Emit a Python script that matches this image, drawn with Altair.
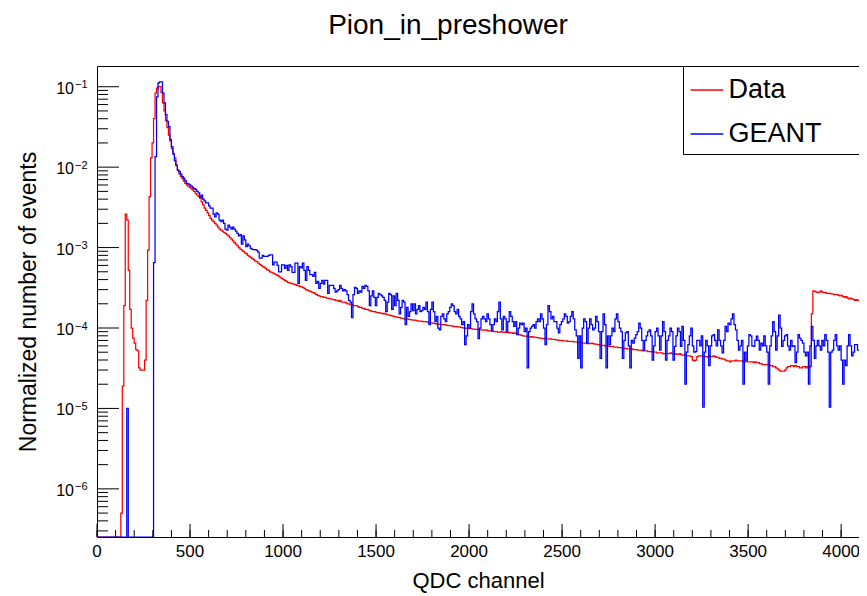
import altair as alt
import pandas as pd

FONT = "Liberation Sans"
BIN_WIDTH = 8
X_MAX = 4096
Y_MIN, Y_MAX = 2.52e-7, 0.181
FLOOR = 1e-9  # empty bins: drawn on the lower frame edge (scale clamps them)
W, H = 762, 471

# ---- "Data" histogram, 512 bins of 8 QDC channels (rows of 32 bins) ----
data_r0 = [0, 0, 0, 0, 0, 0, 0, 0, 0, 0, 0, 0, 0, 0, 0, 0,
           5e-7, 1.9e-5, 1.9e-4, 2.6e-3, 2.2e-3, 5.2e-4, 1.7e-4, 1.0e-4, 7.5e-5, 6.5e-5, 5.4e-5, 5.2e-5, 3.2e-5, 3.0e-5, 3.0e-5, 3.0e-5]
data_r1 = [4.0e-5, 2.2e-4, 9.3e-4, 4.3e-3, 1.3e-2, 2.0e-2, 4.0e-2, 8.3e-2, 9.6e-2, 0.100, 0.100, 0.085, 0.063, 0.050, 0.038, 0.031,
           0.025, 0.021, 0.017, 0.0148, 0.013, 0.0105, 0.0092, 0.0083, 0.0077, 0.0072, 0.0067, 0.0063, 0.0060, 0.0058, 0.0056, 0.0054]
data_r2 = [0.0052, 0.0050, 0.0047, 0.0045, 0.0043, 0.0041, 0.0037, 0.0034, 0.0031, 0.0029, 0.0027, 0.0025, 0.0023, 0.0022, 0.0021, 0.0020,
           0.0019, 0.0018, 0.0017, 0.00165, 0.0016, 0.00155, 0.0015, 0.00145, 0.0014, 0.00133, 0.00127, 0.00121, 0.00115, 0.0011, 0.00105, 0.0010]
data_r3 = [9.6e-4, 9.3e-4, 9.0e-4, 8.6e-4, 8.4e-4, 8.0e-4, 7.8e-4, 7.5e-4, 7.3e-4, 7.1e-4, 6.8e-4, 6.7e-4, 6.4e-4, 6.2e-4, 6.0e-4, 5.8e-4,
           5.7e-4, 5.5e-4, 5.3e-4, 5.2e-4, 5.0e-4, 4.9e-4, 4.8e-4, 4.7e-4, 4.6e-4, 4.5e-4, 4.4e-4, 4.2e-4, 4.1e-4, 4.0e-4, 3.9e-4, 3.8e-4]
data_r4 = [3.7e-4, 3.65e-4, 3.6e-4, 3.55e-4, 3.5e-4, 3.45e-4, 3.4e-4, 3.35e-4, 3.3e-4, 3.25e-4, 3.2e-4, 3.1e-4, 3.0e-4, 2.95e-4, 2.9e-4, 2.85e-4,
           2.8e-4, 2.75e-4, 2.7e-4, 2.6e-4, 2.55e-4, 2.5e-4, 2.45e-4, 2.45e-4, 2.4e-4, 2.4e-4, 2.35e-4, 2.35e-4, 2.3e-4, 2.3e-4, 2.25e-4, 2.25e-4]
data_r5 = [2.2e-4, 2.2e-4, 2.15e-4, 2.2e-4, 2.1e-4, 2.1e-4, 2.1e-4, 2.05e-4, 2.0e-4, 2.0e-4, 1.95e-4, 1.95e-4, 1.9e-4, 1.9e-4, 1.9e-4, 1.85e-4,
           1.8e-4, 1.8e-4, 1.75e-4, 1.75e-4, 1.7e-4, 1.7e-4, 1.68e-4, 1.65e-4, 1.62e-4, 1.6e-4, 1.6e-4, 1.58e-4, 1.55e-4, 1.55e-4, 1.53e-4, 1.52e-4]
data_r6 = [1.5e-4, 1.52e-4, 1.48e-4, 1.46e-4, 1.45e-4, 1.43e-4, 1.42e-4, 1.4e-4, 1.38e-4, 1.37e-4, 1.36e-4, 1.35e-4, 1.33e-4, 1.32e-4, 1.3e-4, 1.3e-4,
           1.3e-4, 1.28e-4, 1.27e-4, 1.26e-4, 1.25e-4, 1.25e-4, 1.24e-4, 1.23e-4, 1.22e-4, 1.22e-4, 1.21e-4, 1.2e-4, 1.2e-4, 1.19e-4, 1.18e-4, 1.17e-4]
data_r7 = [1.16e-4, 1.15e-4, 1.14e-4, 1.13e-4, 1.12e-4, 1.12e-4, 1.11e-4, 1.1e-4, 1.1e-4, 1.1e-4, 1.09e-4, 1.08e-4, 1.07e-4, 1.07e-4, 1.06e-4, 1.05e-4,
           1.04e-4, 1.04e-4, 1.03e-4, 1.03e-4, 1.02e-4, 1.01e-4, 1.0e-4, 1.0e-4, 9.9e-5, 9.9e-5, 9.8e-5, 9.8e-5, 9.7e-5, 9.7e-5, 9.6e-5, 9.6e-5]
data_r8 = [9.6e-5, 9.5e-5, 9.5e-5, 9.4e-5, 9.4e-5, 9.5e-5, 9.3e-5, 9.2e-5, 9.2e-5, 9.1e-5, 9.1e-5, 9.0e-5, 9.0e-5, 8.9e-5, 8.9e-5, 9.0e-5,
           8.9e-5, 8.8e-5, 8.9e-5, 8.8e-5, 8.7e-5, 8.8e-5, 8.7e-5, 8.6e-5, 8.7e-5, 8.6e-5, 8.4e-5, 8.3e-5, 8.2e-5, 8.1e-5, 8.0e-5, 7.9e-5]
data_r9 = [7.9e-5, 7.8e-5, 7.8e-5, 7.7e-5, 7.8e-5, 7.7e-5, 7.7e-5, 7.6e-5, 7.6e-5, 7.5e-5, 7.5e-5, 7.4e-5, 7.4e-5, 7.4e-5, 7.3e-5, 7.3e-5,
           7.3e-5, 7.2e-5, 7.2e-5, 7.2e-5, 7.1e-5, 7.1e-5, 7.0e-5, 7.0e-5, 7.0e-5, 6.9e-5, 6.9e-5, 6.9e-5, 6.8e-5, 6.8e-5, 6.8e-5, 6.8e-5]
data_r10 = [6.7e-5, 6.7e-5, 6.7e-5, 6.6e-5, 6.6e-5, 6.6e-5, 6.5e-5, 6.5e-5, 6.5e-5, 6.4e-5, 6.4e-5, 6.4e-5, 6.5e-5, 6.4e-5, 6.3e-5, 6.3e-5,
            6.2e-5, 6.2e-5, 6.1e-5, 6.1e-5, 6.1e-5, 6.0e-5, 6.0e-5, 6.0e-5, 5.9e-5, 5.9e-5, 5.9e-5, 5.8e-5, 5.8e-5, 5.8e-5, 5.7e-5, 5.7e-5]
data_r11 = [5.7e-5, 5.6e-5, 5.6e-5, 5.6e-5, 5.5e-5, 5.5e-5, 5.5e-5, 5.5e-5, 5.4e-5, 5.4e-5, 5.4e-5, 5.3e-5, 5.3e-5, 5.3e-5, 5.2e-5, 5.2e-5,
            5.2e-5, 5.2e-5, 5.1e-5, 5.1e-5, 5.1e-5, 5.0e-5, 5.0e-5, 5.0e-5, 4.9e-5, 4.9e-5, 4.9e-5, 4.9e-5, 4.8e-5, 4.8e-5, 4.8e-5, 4.8e-5]
data_r12 = [4.8e-5, 4.9e-5, 4.8e-5, 4.8e-5, 4.8e-5, 4.7e-5, 4.7e-5, 4.8e-5, 4.7e-5, 4.6e-5, 4.6e-5, 4.6e-5, 4.5e-5, 4.5e-5, 4.5e-5, 4.4e-5,
            4.0e-5, 3.9e-5, 4.0e-5, 4.4e-5, 4.5e-5, 4.5e-5, 4.5e-5, 4.4e-5, 4.4e-5, 4.4e-5, 4.3e-5, 4.5e-5, 4.4e-5, 4.4e-5, 4.5e-5, 4.4e-5]
data_r13 = [4.3e-5, 4.3e-5, 4.2e-5, 4.2e-5, 4.1e-5, 4.1e-5, 4.0e-5, 3.9e-5, 3.9e-5, 3.8e-5, 3.9e-5, 3.9e-5, 3.9e-5, 4.0e-5, 3.9e-5, 3.9e-5,
            3.9e-5, 3.9e-5, 3.8e-5, 3.8e-5, 3.9e-5, 3.8e-5, 3.8e-5, 3.8e-5, 3.8e-5, 3.7e-5, 3.8e-5, 3.7e-5, 3.7e-5, 3.6e-5, 3.6e-5, 3.5e-5]
data_r14 = [3.5e-5, 3.5e-5, 3.5e-5, 3.5e-5, 3.4e-5, 3.4e-5, 3.3e-5, 3.3e-5, 3.2e-5, 3.1e-5, 3.0e-5, 2.9e-5, 2.9e-5, 2.9e-5, 3.0e-5, 3.2e-5,
            3.3e-5, 3.3e-5, 3.4e-5, 3.4e-5, 3.3e-5, 3.4e-5, 3.3e-5, 3.3e-5, 3.2e-5, 3.2e-5, 3.3e-5, 3.3e-5, 3.2e-5, 3.3e-5, 3.2e-5, 3.3e-5]
data_r15 = [1.5e-4, 2.9e-4, 2.85e-4, 2.8e-4, 2.75e-4, 2.8e-4, 2.9e-4, 2.8e-4, 2.75e-4, 2.75e-4, 2.7e-4, 2.7e-4, 2.7e-4, 2.65e-4, 2.65e-4, 2.6e-4,
            2.6e-4, 2.6e-4, 2.55e-4, 2.5e-4, 2.55e-4, 2.45e-4, 2.4e-4, 2.45e-4, 2.35e-4, 2.3e-4, 2.35e-4, 2.3e-4, 2.25e-4, 2.2e-4, 2.25e-4, 2.2e-4]

# ---- "GEANT" histogram, same binning ----
geant_r0 = [0, 0, 0, 0, 0, 0, 0, 0, 0, 0, 0, 0, 0, 0, 0, 0,
            0, 0, 0, 0, 1.0e-5, 0, 0, 0, 0, 0, 0, 0, 0, 0, 0, 0]
geant_r1 = [0, 0, 0, 0, 0, 0, 6.5e-4, 0.0135, 0.075, 0.112, 0.115, 0.115, 0.083, 0.063, 0.045, 0.037,
            0.032, 0.022, 0.018, 0.0145, 0.012, 0.0105, 0.0092, 0.0088, 0.0082, 0.0076, 0.0073, 0.0068, 0.0063, 0.0062, 0.0060, 0.0058]
geant_r2 = [0.0056, 0.0054, 0.0053, 0.0050, 0.0048, 0.0042, 0.0045, 0.0040, 0.0038, 0.0036, 0.0036, 0.0033, 0.0031, 0.0031, 0.0026, 0.0024,
            0.0027, 0.0026, 0.0022, 0.0021, 0.0022, 0.0020, 0.0017, 0.00165, 0.0019, 0.0018, 0.0017, 0.0018, 0.0017, 0.0016, 0.0015, 0.0014]
geant_r3 = [1.45e-3, 1.1e-3, 1.4e-3, 1.25e-3, 1.03e-3, 1.1e-3, 1.05e-3, 9.8e-4, 9.5e-4, 9.4e-4, 9.4e-4, 9.2e-4, 8.8e-4, 7.4e-4, 7.4e-4, 8.0e-4,
            7.8e-4, 7.8e-4, 7.8e-4, 8.0e-4, 8.1e-4, 8.1e-4, 6.1e-4, 6.6e-4, 6.6e-4, 6.0e-4, 5.0e-4, 5.0e-4, 6.1e-4, 6.1e-4, 5.5e-4, 6.0e-4]
geant_r4 = [5.2e-4, 6.1e-4, 5.8e-4, 4.9e-4, 4.9e-4, 6.4e-4, 6.4e-4, 3.6e-4, 5.8e-4, 5.6e-4, 6.4e-4, 5.2e-4, 3.9e-4, 5.8e-4, 5.2e-4, 4.6e-4,
            4.6e-4, 4.4e-4, 4.9e-4, 3.6e-4, 3.8e-4, 3.1e-4, 3.6e-4, 3.9e-4, 3.5e-4, 3.9e-4, 3.9e-4, 2.7e-4, 3.4e-4, 3.4e-4, 3.4e-4, 3.1e-4]
geant_r5 = [2.8e-4, 2.9e-4, 3.0e-4, 3.4e-4, 3.1e-4, 2.9e-4, 3.0e-4, 2.9e-4, 2.6e-4, 2.2e-4, 2.1e-4, 1.35e-4, 2.6e-4, 3.2e-4, 3.1e-4, 2.7e-4,
            2.9e-4, 2.8e-4, 3.3e-4, 3.1e-4, 3.4e-4, 3.3e-4, 2.9e-4, 1.9e-4, 2.5e-4, 2.9e-4, 2.4e-4, 1.9e-4, 2.4e-4, 2.7e-4, 2.6e-4, 2.5e-4]
geant_r6 = [2.4e-4, 2.2e-4, 1.6e-4, 2.1e-4, 2.7e-4, 2.6e-4, 1.7e-4, 2.5e-4, 1.9e-4, 2.7e-4, 2.2e-4, 1.5e-4, 1.8e-4, 2.2e-4, 2.1e-4, 1.1e-4,
            1.8e-4, 1.4e-4, 1.6e-4, 2.0e-4, 1.65e-4, 2.0e-4, 1.5e-4, 1.7e-4, 1.9e-4, 1.6e-4, 1.65e-4, 1.8e-4, 1.7e-4, 2.1e-4, 1.6e-4, 1.1e-4]
geant_r7 = [1.7e-4, 2.1e-4, 1.6e-4, 1.2e-4, 1.4e-4, 1.0e-4, 9.5e-5, 1.4e-4, 1.5e-4, 1.3e-4, 1.2e-4, 1.5e-4, 1.6e-4, 1.8e-4, 2.0e-4, 1.9e-4,
            1.6e-4, 1.5e-4, 1.7e-4, 1.4e-4, 1.3e-4, 1.1e-4, 1.2e-4, 6.2e-5, 8.0e-5, 1.1e-4, 1.0e-4, 1.6e-4, 2.0e-4, 1.5e-4, 1.3e-4, 1.2e-4]
geant_r8 = [7.4e-5, 1.0e-4, 1.3e-4, 1.4e-4, 1.3e-4, 1.2e-4, 1.5e-4, 1.3e-4, 1.1e-4, 9.3e-5, 1.1e-4, 1.3e-4, 1.2e-4, 1.6e-4, 2.1e-4, 1.3e-4,
            9.5e-5, 1.4e-4, 1.3e-4, 9.0e-5, 1.2e-4, 1.6e-4, 1.4e-4, 1.2e-4, 1.05e-4, 1.2e-4, 8.3e-5, 1.0e-4, 1.15e-4, 1.1e-4, 1.15e-4, 9.0e-5]
geant_r9 = [1.0e-4, 3.2e-5, 9.0e-5, 1.0e-4, 1.05e-4, 1.1e-4, 1.0e-4, 1.2e-4, 1.3e-4, 1.2e-4, 1.5e-4, 1.3e-4, 1.0e-4, 6.2e-5, 1.1e-4, 1.9e-4,
            1.6e-4, 1.3e-4, 1.4e-4, 1.2e-4, 1.2e-4, 1.0e-4, 8.7e-5, 1.1e-4, 1.2e-4, 1.3e-4, 1.5e-4, 1.4e-4, 1.15e-4, 1.2e-4, 1.4e-4, 1.6e-4]
geant_r10 = [1.3e-4, 9.5e-5, 8.0e-5, 4.2e-5, 8.0e-5, 3.2e-5, 1.0e-4, 1.3e-4, 1.2e-4, 6.5e-5, 1.0e-4, 1.3e-4, 1.1e-4, 9.5e-5, 1.0e-4, 1.4e-4,
             1.2e-4, 9.0e-5, 4.2e-5, 9.0e-5, 1.5e-4, 1.1e-4, 3.2e-5, 8.0e-5, 6.2e-5, 8.0e-5, 1.0e-4, 9.0e-5, 1.3e-4, 1.5e-4, 1.2e-4, 1.0e-4]
geant_r11 = [9.0e-5, 4.2e-5, 7.0e-5, 8.7e-5, 9.0e-5, 6.0e-5, 3.2e-5, 7.0e-5, 6.5e-5, 7.5e-5, 8.3e-5, 9.0e-5, 1.15e-4, 1.0e-4, 7.0e-5, 5.3e-5,
             7.0e-5, 8.0e-5, 9.0e-5, 9.5e-5, 8.0e-5, 4.0e-5, 6.0e-5, 9.0e-5, 1.0e-4, 8.0e-5, 5.3e-5, 8.0e-5, 1.2e-4, 9.0e-5, 4.0e-5, 7.0e-5]
geant_r12 = [8.0e-5, 1.0e-4, 9.0e-5, 4.0e-5, 5.9e-5, 8.0e-5, 1.0e-4, 9.0e-5, 5.9e-5, 1.05e-4, 7.0e-5, 2.0e-5, 5.0e-5, 6.2e-5, 8.0e-5, 1.0e-4,
             6.0e-5, 5.0e-5, 5.1e-5, 7.0e-5, 7.0e-5, 6.0e-5, 8.0e-5, 1.04e-5, 5.0e-5, 7.0e-5, 6.0e-5, 3.4e-5, 6.0e-5, 8.0e-5, 8.3e-5, 7.0e-5]
geant_r13 = [6.0e-5, 9.5e-5, 7.0e-5, 6.0e-5, 4.9e-5, 7.0e-5, 1.05e-4, 9.0e-5, 1.15e-4, 1.1e-4, 1.3e-4, 1.5e-4, 1.1e-4, 9.5e-5, 7.0e-5, 5.3e-5,
             6.0e-5, 7.0e-5, 2.0e-5, 5.0e-5, 4.0e-5, 6.0e-5, 8.3e-5, 8.0e-5, 6.0e-5, 5.9e-5, 7.0e-5, 7.9e-5, 7.0e-5, 5.3e-5, 6.5e-5, 6.0e-5]
geant_r14 = [8.0e-5, 6.0e-5, 5.0e-5, 2.0e-5, 6.0e-5, 8.0e-5, 1.2e-4, 9.0e-5, 5.3e-5, 8.0e-5, 1.45e-4, 1.0e-4, 5.9e-5, 7.0e-5, 8.0e-5, 8.3e-5,
             6.0e-5, 5.3e-5, 7.0e-5, 5.9e-5, 6.0e-5, 3.7e-5, 5.0e-5, 8.3e-5, 7.5e-5, 7.0e-5, 6.5e-5, 5.0e-5, 4.5e-5, 5.0e-5, 2.0e-5, 6.0e-5]
geant_r15 = [1.05e-4, 7.0e-5, 4.2e-5, 6.0e-5, 7.0e-5, 6.0e-5, 5.3e-5, 7.0e-5, 6.0e-5, 8.3e-5, 7.0e-5, 5.0e-5, 1.04e-5, 5.0e-5, 5.3e-5, 7.0e-5,
             8.3e-5, 6.0e-5, 5.3e-5, 6.0e-5, 4.0e-5, 2.0e-5, 4.0e-5, 3.4e-5, 6.0e-5, 8.3e-5, 6.0e-5, 4.5e-5, 5.0e-5, 6.2e-5, 6.2e-5, 5.3e-5]

DATA_ROWS = [data_r0, data_r1, data_r2, data_r3, data_r4, data_r5, data_r6, data_r7,
             data_r8, data_r9, data_r10, data_r11, data_r12, data_r13, data_r14, data_r15]
GEANT_ROWS = [geant_r0, geant_r1, geant_r2, geant_r3, geant_r4, geant_r5, geant_r6, geant_r7,
              geant_r8, geant_r9, geant_r10, geant_r11, geant_r12, geant_r13, geant_r14, geant_r15]
data_vals = [v for r in DATA_ROWS for v in r]
geant_vals = [v for r in GEANT_ROWS for v in r]
bad = [(n, i, len(r)) for n, rows in (("data", DATA_ROWS), ("geant", GEANT_ROWS)) for i, r in enumerate(rows) if len(r) != 32]
if bad:
    raise ValueError(f"row length problem: {bad}")

SERIES = ["Data", "GEANT"]
COLORS = ["#ff0000", "#0000ff"]

# axis ticks / labels
X_MAJOR = [0, 500, 1000, 1500, 2000, 2500, 3000, 3500, 4000]
X_LABELS = ["0", "500", "1000", "1500", "2000", "2500", "3000", "3500", "4000"]
X_MINOR = [0, 100, 200, 300, 400, 500, 600, 700, 800, 900, 1000, 1100, 1200, 1300, 1400, 1500, 1600, 1700,
           1800, 1900, 2000, 2100, 2200, 2300, 2400, 2500, 2600, 2700, 2800, 2900, 3000, 3100, 3200, 3300,
           3400, 3500, 3600, 3700, 3800, 3900, 4000]
Y_MAJOR = [1e-1, 1e-2, 1e-3, 1e-4, 1e-5, 1e-6]
Y_BASE = ["10", "10", "10", "10", "10", "10"]
Y_EXP = ["\u22121", "\u22122", "\u22123", "\u22124", "\u22125", "\u22126"]
Y_MINOR = [3e-7, 4e-7, 5e-7, 6e-7, 7e-7, 8e-7, 9e-7,
           2e-6, 3e-6, 4e-6, 5e-6, 6e-6, 7e-6, 8e-6, 9e-6,
           2e-5, 3e-5, 4e-5, 5e-5, 6e-5, 7e-5, 8e-5, 9e-5,
           2e-4, 3e-4, 4e-4, 5e-4, 6e-4, 7e-4, 8e-4, 9e-4,
           2e-3, 3e-3, 4e-3, 5e-3, 6e-3, 7e-3, 8e-3, 9e-3,
           2e-2, 3e-2, 4e-2, 5e-2, 6e-2, 7e-2, 8e-2, 9e-2]


def hist_rows(name, vals):
    rows = []
    for i, v in enumerate(vals):
        rows.append({"series": name, "x": i * BIN_WIDTH, "y": v if v > 0 else FLOOR})
    last = vals[-1] if vals[-1] > 0 else FLOOR
    rows.append({"series": name, "x": len(vals) * BIN_WIDTH, "y": last})
    return rows


hist_df = pd.DataFrame(hist_rows("Data", data_vals) + hist_rows("GEANT", geant_vals))
ymaj_df = pd.DataFrame({"v": Y_MAJOR, "base": Y_BASE, "exp": Y_EXP})
ymin_df = pd.DataFrame({"v": Y_MINOR})
xmaj_df = pd.DataFrame({"v": X_MAJOR, "lab": X_LABELS})
xmin_df = pd.DataFrame({"v": X_MINOR})

xscale = alt.Scale(domain=[0, X_MAX], nice=False, zero=False)
yscale = alt.Scale(type="log", domain=[Y_MIN, Y_MAX], nice=False, clamp=True)

AX_X = alt.Axis(orient="bottom", labels=False, ticks=False, domain=False, grid=False,
                title="QDC channel", titleFont=FONT, titleFontSize=22, titleFontWeight="normal",
                titleColor="black", titlePadding=33)
AX_Y = alt.Axis(orient="left", labels=False, ticks=False, domain=False, grid=False,
                title="Normalized number of events", titleFont=FONT, titleFontSize=23,
                titleFontWeight="normal", titleColor="black", titlePadding=57)

# legend box is widened on the right with no-break spaces (a trailing zero-width
# character keeps them from being trimmed), as in the reference
legend = alt.Legend(title=None, orient="top-right", offset=0, strokeColor="black",
                    fillColor="white", padding=6.5, cornerRadius=0, symbolType="stroke",
                    symbolSize=1063, symbolStrokeWidth=1.5, labelFontSize=27,
                    labelFont=FONT, labelColor="black", labelOffset=4, rowPadding=13,
                    labelExpr="datum.label + '\u00a0\u00a0\u00a0\u00a0\u200b'")

lines = alt.Chart(hist_df).mark_line(interpolate="step-after", clip=True, strokeWidth=1.25).encode(
    x=alt.X("x:Q", scale=xscale, axis=AX_X),
    y=alt.Y("y:Q", scale=yscale, axis=AX_Y),
    color=alt.Color("series:N", scale=alt.Scale(domain=SERIES, range=COLORS), legend=legend),
)

y_major_ticks = alt.Chart(ymaj_df).mark_rule(color="black", strokeWidth=1).encode(
    y=alt.Y("v:Q", scale=yscale, axis=AX_Y), x=alt.value(0), x2=alt.value(22))
y_minor_ticks = alt.Chart(ymin_df).mark_rule(color="black", strokeWidth=1).encode(
    y=alt.Y("v:Q", scale=yscale, axis=AX_Y), x=alt.value(0), x2=alt.value(11))
x_major_ticks = alt.Chart(xmaj_df).mark_rule(color="black", strokeWidth=1).encode(
    x=alt.X("v:Q", scale=xscale, axis=AX_X), y=alt.value(H), y2=alt.value(H - 13))
x_minor_ticks = alt.Chart(xmin_df).mark_rule(color="black", strokeWidth=1).encode(
    x=alt.X("v:Q", scale=xscale, axis=AX_X), y=alt.value(H), y2=alt.value(H - 7))
x_labels = alt.Chart(xmaj_df).mark_text(align="center", baseline="top", dy=7, fontSize=17,
                                        font=FONT, color="black").encode(
    x=alt.X("v:Q", scale=xscale, axis=AX_X), y=alt.value(H), text="lab:N")
y_base_labels = alt.Chart(ymaj_df).mark_text(align="right", baseline="middle", dy=2, fontSize=16,
                                             font=FONT, color="black").encode(
    y=alt.Y("v:Q", scale=yscale, axis=AX_Y), x=alt.value(-23), text="base:N")
y_exponents = alt.Chart(ymaj_df).mark_text(align="left", baseline="alphabetic", dy=1.5, fontSize=11,
                                           font=FONT, color="black").encode(
    y=alt.Y("v:Q", scale=yscale, axis=AX_Y), x=alt.value(-22), text="exp:N")

chart = alt.layer(
    lines, y_minor_ticks, y_major_ticks, x_minor_ticks, x_major_ticks,
    x_labels, y_base_labels, y_exponents
).properties(
    width=W, height=H,
    padding={"left": 89, "top": 58, "right": 0, "bottom": 58},
    autosize=alt.AutoSizeParams(type="none"),
    background="white",
    title=alt.TitleParams(text="Pion_in_preshower", fontSize=28, font=FONT, fontWeight="normal",
                          anchor="middle", dx=-30, offset=4, baseline="alphabetic", color="black"),
).configure_view(stroke="black", strokeWidth=1)

chart.save("out.html", embed_options={"renderer": "svg", "actions": False})
